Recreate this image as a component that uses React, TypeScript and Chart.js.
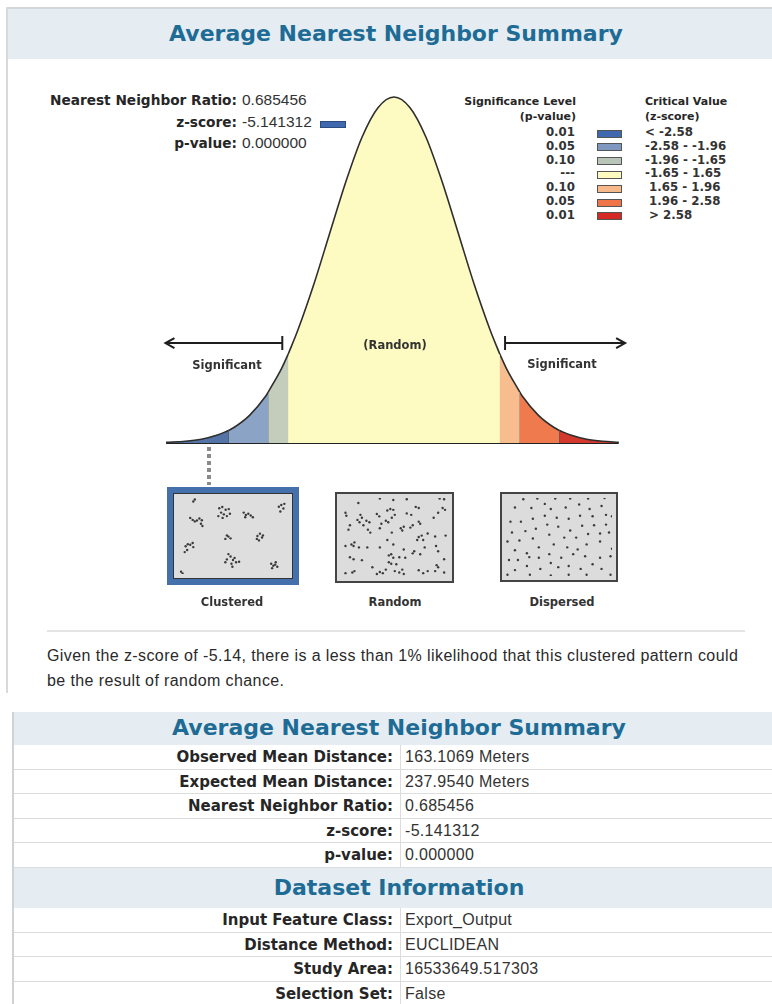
import React, { useEffect, useRef } from "react";
import { Chart, registerables } from "chart.js";
Chart.register(...registerables);

// ---- bell curve (z-score -> relative height, peak = 1)
const curveZ = [-3.55, -3.25, -3.0, -2.75, -2.58, -2.5, -2.25, -2.0, -1.96, -1.75, -1.65, -1.5, -1.25, -1.0, -0.75, -0.5, -0.25, 0, 0.25, 0.5, 0.75, 1.0, 1.25, 1.5, 1.65, 1.75, 1.96, 2.0, 2.25, 2.5, 2.58, 2.75, 3.0, 3.25, 3.5];
const curveH = [0.002, 0.005, 0.011, 0.023, 0.036, 0.044, 0.08, 0.135, 0.147, 0.216, 0.256, 0.325, 0.458, 0.607, 0.755, 0.883, 0.969, 1.0, 0.969, 0.883, 0.755, 0.607, 0.458, 0.325, 0.256, 0.216, 0.147, 0.135, 0.08, 0.044, 0.036, 0.023, 0.011, 0.005, 0.002];
const zoneBounds = [-3.55, -2.58, -1.96, -1.65, 1.65, 1.96, 2.58, 3.5];
const zoneColors = ["#5474a8", "#8ba3c4", "#c4ccbc", "#fefbc2", "#f7bd8e", "#ee7a4d", "#d2392c"];

// ---- legend
const legendP = ["0.01", "0.05", "0.10", "---", "0.10", "0.05", "0.01"];
const legendZ = ["< -2.58", "-2.58 - -1.96", "-1.96 - -1.65", "-1.65 - 1.65", " 1.65 - 1.96", " 1.96 - 2.58", " > 2.58"];
const legendColors = ["#3f68ae", "#7f98bf", "#b9c5b9", "#fdfbc0", "#f8b98a", "#ef7448", "#d42a26"];

// ---- summary text
const summaryLabels = ["Nearest Neighbor Ratio:", "z-score:", "p-value:"];
const summaryValues = ["0.685456", "-5.141312", "0.000000"];

// ---- tables
const table1Labels = ["Observed Mean Distance:", "Expected Mean Distance:", "Nearest Neighbor Ratio:", "z-score:", "p-value:"];
const table1Values = ["163.1069 Meters", "237.9540 Meters", "0.685456", "-5.141312", "0.000000"];
const table2Labels = ["Input Feature Class:", "Distance Method:", "Study Area:", "Selection Set:"];
const table2Values = ["Export_Output", "EUCLIDEAN", "16533649.517303", "False"];

// ---- point patterns (in box units)
const clusteredPts = [
  [95, 165], [90, 172],
  [80, 228], [88, 235], [95, 240], [102, 237], [110, 230], [118, 236], [115, 248], [120, 256],
  [175, 195], [185, 191], [196, 200], [206, 198], [181, 210], [190, 216], [200, 222], [172, 222], [210, 214], [186, 228],
  [255, 210], [262, 218], [270, 214], [278, 220], [260, 226], [285, 226],
  [370, 190], [378, 184], [385, 196], [375, 206], [388, 180],
  [195, 300], [205, 292], [212, 298], [200, 288],
  [300, 290], [308, 282], [315, 295], [305, 305], [298, 300], [318, 288],
  [65, 325], [72, 318], [80, 320], [88, 314], [70, 338], [62, 345], [90, 328],
  [205, 352], [212, 360], [200, 370], [220, 372], [230, 380], [215, 385], [195, 380], [225, 365], [240, 378], [218, 395],
  [345, 385], [352, 392], [360, 380], [365, 395], [348, 400], [358, 388],
  [50, 412], [55, 418],
];
const randomPts = [
  [88, 55], [160, 40], [205, 45], [250, 42], [360, 40], [375, 42], [45, 88], [48, 98], [95, 95], [100, 105], [85, 112], [92, 120],
  [115, 115], [125, 120], [150, 92], [158, 100], [185, 80], [195, 75], [205, 78], [210, 95], [200, 105], [180, 115], [188, 120],
  [250, 90], [265, 95], [280, 68], [290, 72], [370, 72], [378, 78], [355, 88], [340, 105], [290, 118], [295, 125], [270, 130],
  [262, 138], [60, 130], [55, 145], [105, 130], [120, 145], [128, 155], [165, 125], [160, 140], [200, 155], [230, 140], [235, 148],
  [240, 135], [290, 170], [300, 165], [305, 180], [285, 180], [320, 158], [345, 168], [380, 165], [185, 180], [45, 200], [65, 195],
  [72, 200], [75, 188], [90, 205], [118, 205], [160, 205], [205, 195], [240, 212], [275, 218], [270, 225], [295, 228], [310, 205],
  [348, 200], [355, 218], [60, 238], [72, 245], [100, 248], [190, 232], [198, 228], [205, 240], [225, 238], [245, 240], [190, 255],
  [198, 260], [215, 262], [350, 265], [355, 272], [375, 245], [135, 272], [160, 288], [170, 292], [180, 280], [210, 285], [225, 290],
  [235, 280], [240, 295], [290, 282], [305, 292], [320, 285], [345, 285], [375, 290], [45, 292], [68, 290], [75, 285], [150, 295],
];
const dispersedPts = [
  [88, 42], [135, 40], [195, 40], [245, 40], [305, 40], [360, 38],
  [60, 70], [115, 72], [160, 58], [180, 75], [230, 70], [275, 60], [310, 75], [350, 65],
  [45, 118], [80, 118], [120, 108], [160, 98], [200, 105], [240, 108], [278, 98], [320, 100], [365, 95], [385, 100],
  [50, 155], [95, 150], [130, 142], [168, 128], [205, 135], [245, 148], [285, 132], [325, 130], [365, 128],
  [35, 185], [75, 182], [120, 175], [175, 162], [225, 172], [265, 172], [305, 160], [345, 158], [375, 155],
  [60, 215], [100, 225], [140, 205], [190, 195], [235, 205], [270, 212], [300, 195], [345, 185], [385, 210],
  [70, 248], [108, 238], [140, 240], [175, 228], [215, 240], [255, 228], [295, 235], [345, 240], [380, 235],
  [40, 248], [60, 282], [100, 268], [145, 278], [180, 258], [205, 272], [240, 268], [280, 278], [320, 262], [350, 278],
  [35, 298], [110, 298], [180, 300], [240, 298], [300, 298], [380, 298],
];

const BOLD = '"DejaVu Sans", Verdana, sans-serif';
const REG = '"Liberation Sans", Arial, sans-serif';
const TEAL = "#1e6c96";
const TEXT = "#262626";

function heightAt(z: number) {
  const i = curveZ.indexOf(z);
  return i >= 0 ? curveH[i] : 0;
}

function BellChart() {
  const ref = useRef<HTMLCanvasElement>(null);
  useEffect(() => {
    if (!ref.current) return;
    const datasets: any[] = [];
    for (let i = 0; i < zoneColors.length; i++) {
      const a = zoneBounds[i], b = zoneBounds[i + 1];
      const pts = curveZ.map((z, k) => ({ x: z, y: curveH[k] })).filter((p) => p.x >= a && p.x <= b);
      datasets.push({
        data: pts, fill: "origin", backgroundColor: zoneColors[i], borderColor: "#2e2e2e",
        borderWidth: 1.6, pointRadius: 0, cubicInterpolationMode: "monotone",
      });
    }
    zoneBounds.slice(1, -1).forEach((b) => {
      datasets.push({
        data: [{ x: b, y: 0 }, { x: b, y: heightAt(b) }], fill: false, borderColor: "#2a3342",
        borderWidth: 1.3, pointRadius: 0,
      });
    });
    datasets.push({
      data: [{ x: zoneBounds[0], y: 0 }, { x: zoneBounds[zoneBounds.length - 1], y: 0 }],
      fill: false, borderColor: "#222", borderWidth: 2, pointRadius: 0,
    });
    const arrows = {
      id: "arrows",
      afterDatasetsDraw(chart: any) {
        const { ctx, scales } = chart;
        const yv = scales.y.getPixelForValue(0.289);
        const draw = (from: number, to: number) => {
          const x1 = scales.x.getPixelForValue(from);
          const x2 = scales.x.getPixelForValue(to);
          const dir = Math.sign(x2 - x1);
          ctx.save();
          ctx.strokeStyle = "#1e1e1e";
          ctx.lineWidth = 2;
          ctx.beginPath();
          ctx.moveTo(x1, yv); ctx.lineTo(x2, yv);
          ctx.moveTo(x1, yv - 7); ctx.lineTo(x1, yv + 7);
          ctx.moveTo(x2 - dir * 9, yv - 5); ctx.lineTo(x2, yv); ctx.lineTo(x2 - dir * 9, yv + 5);
          ctx.stroke();
          ctx.restore();
        };
        draw(-1.74, -3.56);
        draw(1.73, 3.6);
      },
    };
    const chart = new Chart(ref.current, {
      type: "line",
      data: { datasets },
      options: {
        animation: false, responsive: false, events: [],
        layout: { padding: 0 },
        plugins: { legend: { display: false }, tooltip: { enabled: false } },
        scales: {
          x: { type: "linear", min: -3.8006, max: 3.9875, display: false },
          y: { min: -0.0491, max: 1.0491, display: false },
        },
      },
      plugins: [arrows],
    } as any);
    return () => chart.destroy();
  }, []);
  return <canvas ref={ref} width={500} height={380} style={{ position: "absolute", left: 150, top: 80, width: 500, height: 380 }} />;
}

function PatternChart({ pts, xr, yr, w, h }: { pts: number[][]; xr: number[]; yr: number[]; w: number; h: number }) {
  const ref = useRef<HTMLCanvasElement>(null);
  useEffect(() => {
    if (!ref.current) return;
    const chart = new Chart(ref.current, {
      type: "scatter",
      data: { datasets: [{ data: pts.map((p) => ({ x: p[0], y: p[1] })), pointRadius: 1.2, pointBackgroundColor: "#3a3a3a", pointBorderWidth: 0 }] },
      options: {
        animation: false, responsive: false, events: [],
        layout: { padding: 0 },
        plugins: { legend: { display: false }, tooltip: { enabled: false } },
        scales: {
          x: { type: "linear", min: xr[0], max: xr[1], display: false },
          y: { type: "linear", min: yr[0], max: yr[1], reverse: true, display: false },
        },
      },
    } as any);
    return () => chart.destroy();
  }, []);
  return <canvas ref={ref} width={w} height={h} style={{ display: "block", width: w, height: h }} />;
}

const abs = (s: React.CSSProperties): React.CSSProperties => ({ position: "absolute", ...s });

export default function App() {
  const rowsTop1 = 745, rowH = 24.6, rowsTop2 = 908;
  const lab = (t: number): React.CSSProperties => ({ right: 772 - 393, top: t + 3, font: `bold 15px ${BOLD}`, whiteSpace: "nowrap" });
  const val = (t: number): React.CSSProperties => ({ left: 405, top: t + 3, font: `16px ${REG}`, letterSpacing: "0.3px", whiteSpace: "nowrap", color: "#333" });
  return (
    <div style={abs({ left: 0, top: 0, width: 772, height: 1004, overflow: "hidden", background: "#fff", color: TEXT })}>
      {/* header */}
      <div style={abs({ left: 6, top: 7, width: 766, height: 50, background: "#e5edf2", borderTop: "2px solid #d3d7da" })} />
      <div style={abs({ left: 0, top: 21, width: 792, textAlign: "center", font: `bold 22px ${BOLD}`, color: TEAL })}>Average Nearest Neighbor Summary</div>
      <div style={abs({ left: 6, top: 7, width: 2, height: 686, background: "#d7d9db" })} />

      {/* summary text */}
      {summaryLabels.map((l, i) => (
        <React.Fragment key={l}>
          <div style={abs({ right: 772 - 237, top: 92 + i * 21.5, font: `bold 13.7px ${BOLD}`, whiteSpace: "nowrap" })}>{l}</div>
          <div style={abs({ left: 242, top: 91 + i * 21.5, font: `15.5px ${REG}`, whiteSpace: "nowrap", color: "#333" })}>{summaryValues[i]}</div>
        </React.Fragment>
      ))}
      <div style={abs({ left: 320, top: 121, width: 26, height: 7, background: "#3f68ae", border: "1px solid #2a4a80", boxSizing: "border-box" })} />

      {/* legend */}
      <div style={abs({ right: 772 - 576, top: 94, font: `bold 11px ${BOLD}`, textAlign: "right", lineHeight: "15px", whiteSpace: "nowrap" })}>
        Significance Level<br />(p-value)
      </div>
      <div style={abs({ left: 645, top: 94, font: `bold 11px ${BOLD}`, lineHeight: "15px", whiteSpace: "nowrap" })}>
        Critical Value<br />(z-score)
      </div>
      {legendP.map((p, i) => {
        const cy = 133 + i * 13.8;
        return (
          <React.Fragment key={i}>
            <div style={abs({ right: 772 - 575, top: cy - 8, font: `bold 11.8px ${BOLD}`, whiteSpace: "nowrap", color: "#333" })}>{p}</div>
            <div style={abs({ left: 597, top: cy - 3.5, width: 25, height: 8, background: legendColors[i], border: "1px solid #555", boxSizing: "border-box" })} />
            <div style={abs({ left: 645, top: cy - 8, font: `bold 11.8px ${BOLD}`, whiteSpace: "pre", color: "#333" })}>{legendZ[i]}</div>
          </React.Fragment>
        );
      })}

      <BellChart />

      <div style={abs({ left: 167, width: 120, top: 358, textAlign: "center", font: `bold 11.5px ${BOLD}`, color: "#333" })}>Significant</div>
      <div style={abs({ left: 502, width: 120, top: 357, textAlign: "center", font: `bold 11.5px ${BOLD}`, color: "#333" })}>Significant</div>
      <div style={abs({ left: 335, width: 120, top: 338, textAlign: "center", font: `bold 11.5px ${BOLD}`, color: "#333" })}>(Random)</div>

      {/* dotted pointer */}
      <div style={abs({ left: 207, top: 447, width: 4, height: 38, background: "repeating-linear-gradient(to bottom, #8a8a8a 0 4px, transparent 4px 7px)" })} />

      {/* pattern boxes */}
      <div style={abs({ left: 167, top: 487, width: 132, height: 98, border: "6px solid #4470ab", boxSizing: "border-box", background: "#dedede" })}>
        <div style={{ border: "1px solid #333", background: "#dedede" }}>
          <PatternChart pts={clusteredPts} xr={[40, 400]} yr={[160, 420]} w={118} h={84} />
        </div>
      </div>
      <div style={abs({ left: 335, top: 492, width: 119, height: 91, border: "2px solid #444", boxSizing: "border-box", background: "#dcdcdc" })}>
        <PatternChart pts={randomPts} xr={[30, 388]} yr={[38, 305]} w={115} h={87} />
      </div>
      <div style={abs({ left: 500, top: 492, width: 118, height: 90, border: "2px solid #444", boxSizing: "border-box", background: "#dcdcdc" })}>
        <PatternChart pts={dispersedPts} xr={[30, 385]} yr={[38, 302]} w={114} h={86} />
      </div>
      <div style={abs({ left: 172, width: 120, top: 595, textAlign: "center", font: `bold 11.5px ${BOLD}`, color: "#333" })}>Clustered</div>
      <div style={abs({ left: 335, width: 120, top: 595, textAlign: "center", font: `bold 11.5px ${BOLD}`, color: "#333" })}>Random</div>
      <div style={abs({ left: 502, width: 120, top: 595, textAlign: "center", font: `bold 11.5px ${BOLD}`, color: "#333" })}>Dispersed</div>

      {/* rule + paragraph */}
      <div style={abs({ left: 47, top: 630, width: 698, height: 2, background: "#e2e4e6" })} />
      <div style={abs({ left: 47, top: 643, width: 720, font: `16px ${REG}`, letterSpacing: "0.4px", lineHeight: "25px", whiteSpace: "nowrap", color: "#2a2a2a" })}>
        Given the z-score of -5.14, there is a less than 1% likelihood that this clustered pattern could<br />be the result of random chance.
      </div>

      {/* table */}
      <div style={abs({ left: 13, top: 712, width: 759, height: 33, background: "#e5edf2" })} />
      <div style={abs({ left: 0, width: 798, top: 715, textAlign: "center", font: `bold 22px ${BOLD}`, color: TEAL })}>Average Nearest Neighbor Summary</div>
      {table1Labels.map((l, i) => {
        const t = rowsTop1 + i * rowH;
        return (
          <React.Fragment key={l}>
            <div style={abs({ left: 13, top: t, width: 759, height: rowH, borderBottom: "1px solid #dcdcdc", boxSizing: "border-box" })} />
            <div style={abs(lab(t))}>{l}</div>
            <div style={abs(val(t))}>{table1Values[i]}</div>
          </React.Fragment>
        );
      })}
      <div style={abs({ left: 13, top: 868, width: 759, height: 40, background: "#e5edf2" })} />
      <div style={abs({ left: 0, width: 798, top: 875, textAlign: "center", font: `bold 22px ${BOLD}`, color: TEAL })}>Dataset Information</div>
      {table2Labels.map((l, i) => {
        const t = rowsTop2 + i * rowH;
        return (
          <React.Fragment key={l}>
            <div style={abs({ left: 13, top: t, width: 759, height: rowH, borderBottom: "1px solid #dcdcdc", boxSizing: "border-box" })} />
            <div style={abs(lab(t))}>{l}</div>
            <div style={abs(val(t))}>{table2Values[i]}</div>
          </React.Fragment>
        );
      })}
      <div style={abs({ left: 400, top: 745, width: 1, height: 123, background: "#dcdcdc" })} />
      <div style={abs({ left: 400, top: 908, width: 1, height: 96, background: "#dcdcdc" })} />
      <div style={abs({ left: 12, top: 712, width: 2, height: 292, background: "#d0d3d6" })} />
    </div>
  );
}
